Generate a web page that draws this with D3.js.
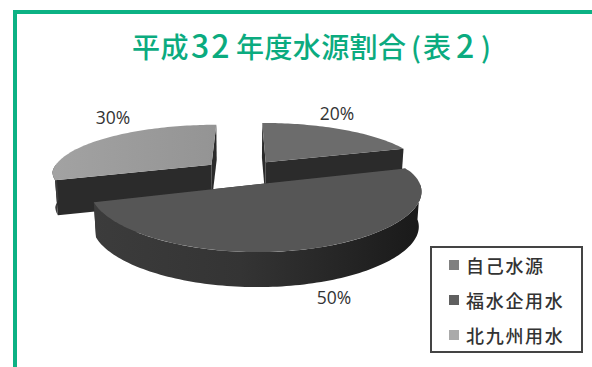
<!DOCTYPE html>
<html lang="ja">
<head>
<meta charset="utf-8">
<script src="https://cdn.jsdelivr.net/npm/d3@7"></script>
<style>
html,body{margin:0;padding:0;background:#fff}
svg{display:block}
</style>
</head>
<body>
<svg id="chart" width="592" height="367"></svg>
<script>
// Water source shares, fiscal Heisei 32
const categories = ["自己水源", "福水企用水", "北九州用水"];
const shares = [20, 50, 30];
const titleParts = ["平成", "32", "年度水源割合", "(", "表", "2", ")"];

const topColors = ["#6c6c6c", "#565656", "#9b9b9b"];
const swatchColors = ["#808080", "#606060", "#aaaaaa"];

const W = 592, H = 367;
const svg = d3.select("#chart");

// Perspective model of the tilted disc
const cx = 243, cy = 172;
const R = 160, explode = 40, tilt = 0.312, D = 866, depth = 35;

function project(a, r, off, low) {
  const X = r * Math.sin(a) + off.x;
  const Y = r * Math.cos(a) + off.y;
  const s = 1 / (1 + Y / D);
  // Near points widen less than they drop
  const sx = s > 1 ? 1 + (s - 1) * 0.6 : s;
  const k = low ? 0.985 : 1;
  return [cx + X * sx * k, cy - Y * tilt * s + (low ? depth : 0)];
}

const arcs = d3.pie().sort(null).value(d => d)(shares);
const line = d3.line();

function arcPoints(a0, a1, off, low) {
  const n = Math.max(2, Math.ceil(Math.abs(a1 - a0) * 40));
  return d3.range(n + 1).map(i => project(a0 + (a1 - a0) * i / n, R, off, low));
}

// Shaded gradients for the walls of the slices
const defs = svg.append("defs");
const wall = defs.append("linearGradient").attr("id", "wall")
  .attr("gradientUnits", "userSpaceOnUse")
  .attr("x1", 90).attr("x2", 425).attr("y1", 0).attr("y2", 0);
wall.append("stop").attr("offset", 0).attr("stop-color", "#3c3c3c");
wall.append("stop").attr("offset", 0.45).attr("stop-color", "#343434");
wall.append("stop").attr("offset", 1).attr("stop-color", "#191919");

const sheen = defs.append("linearGradient").attr("id", "sheen")
  .attr("gradientUnits", "userSpaceOnUse")
  .attr("x1", 56).attr("x2", 216).attr("y1", 0).attr("y2", 0);
sheen.append("stop").attr("offset", 0).attr("stop-color", "#a2a2a2");
sheen.append("stop").attr("offset", 1).attr("stop-color", "#949494");

const pieG = svg.append("g");

// Paint back slices first, so the big near slice overlaps them
[0, 2, 1].forEach(i => {
  const d = arcs[i];
  const mid = (d.startAngle + d.endAngle) / 2;
  const off = { x: explode * Math.sin(mid), y: explode * Math.cos(mid) };
  const g = pieG.append("g");

  // Flat cut faces
  [d.startAngle, d.endAngle].forEach(a => {
    const pts = [project(0, 0, off, false), project(a, R, off, false),
                 project(a, R, off, true), project(0, 0, off, true)];
    g.append("path").attr("d", line(pts) + "Z").attr("fill", "#2b2b2b");
  });

  // Outer wall: only the part facing the viewer
  const w0 = Math.max(d.startAngle, Math.PI / 2);
  const w1 = Math.min(d.endAngle, Math.PI * 1.5);
  if (w1 > w0) {
    const pts = arcPoints(w0, w1, off, false).concat(arcPoints(w1, w0, off, true));
    g.append("path").attr("d", line(pts) + "Z").attr("fill", "url(#wall)");
  }

  // Top face
  const top = [project(0, 0, off, false)].concat(arcPoints(d.startAngle, d.endAngle, off, false));
  g.append("path").attr("d", line(top) + "Z")
    .attr("fill", i === 2 ? "url(#sheen)" : topColors[i]);
});

// Percentage labels
const labelPos = [[337, 113], [334, 297], [113, 117]];
svg.append("g").selectAll("text").data(arcs).join("text")
  .attr("x", (d, i) => labelPos[i][0])
  .attr("y", (d, i) => labelPos[i][1])
  .attr("text-anchor", "middle").attr("dominant-baseline", "central")
  .attr("font-family", "'Open Sans', sans-serif").attr("font-size", 17.5)
  .attr("fill", "#333")
  .text(d => d.data + "%");

// Green frame, open towards the right and bottom
svg.append("path").attr("d", `M15,${H} V12 H${W}`)
  .attr("fill", "none").attr("stroke", "#0cb284").attr("stroke-width", 4);

// Title: digits are set larger than the kanji and the runs are spaced out
const titleX = [132, 191, 236, 411, 423, 456, 481];
const title = svg.append("text").attr("y", 58)
  .attr("font-family", "'Noto Sans CJK JP', sans-serif")
  .attr("font-size", 28).attr("font-weight", 500)
  .attr("fill", "#0bab7f");
title.selectAll("tspan").data(titleParts).join("tspan")
  .attr("x", (d, i) => titleX[i])
  .attr("font-size", d => /[0-9]/.test(d) ? 32 : 28)
  .attr("letter-spacing", d => /[0-9]/.test(d) ? 2 : 0.4)
  .text(d => d);

// Legend
svg.append("rect").attr("x", 431).attr("y", 247).attr("width", 151).attr("height", 105)
  .attr("fill", "#fff").attr("stroke", "#444").attr("stroke-width", 2);
const rowY = d3.scalePoint().domain(categories).range([265, 335]);
const row = svg.append("g").selectAll("g").data(categories).join("g")
  .attr("transform", d => `translate(0,${rowY(d)})`);
row.append("rect").attr("x", 449).attr("y", -5).attr("width", 10).attr("height", 10)
  .attr("fill", (d, i) => swatchColors[i]);
row.append("text").attr("x", 466).attr("y", 0)
  .attr("dominant-baseline", "central")
  .attr("font-family", "'Noto Sans CJK JP', sans-serif")
  .attr("font-size", 18).attr("font-weight", 500).attr("letter-spacing", 1.7)
  .attr("fill", "#333")
  .text(d => d);
</script>
</body>
</html>
